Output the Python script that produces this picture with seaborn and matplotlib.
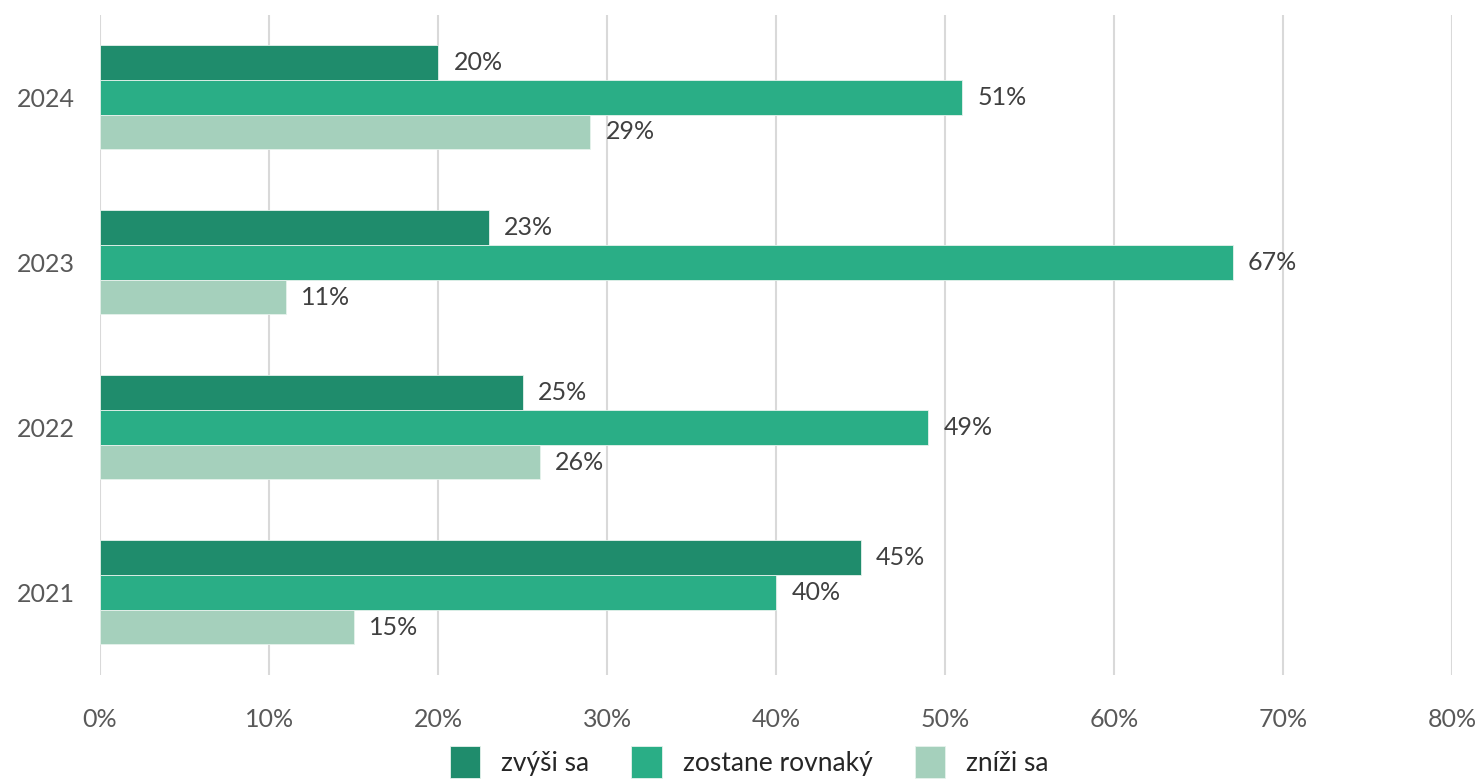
import pandas as pd
import seaborn as sns
import matplotlib.pyplot as plt
from matplotlib.ticker import PercentFormatter

# Údaje z grafu
roky = ['2024', '2023', '2022', '2021']
kategorie = ['zvýši sa', 'zostane rovnaký', 'zníži sa']
zvysi = [20, 23, 25, 45]
rovnaky = [51, 67, 49, 40]
znizi = [29, 11, 26, 15]
farby = ['#1f8c6c', '#2aae86', '#a5d0bc']

df = pd.DataFrame({
    'Rok': roky * 3,
    'Kategoria': [kategorie[0]] * 4 + [kategorie[1]] * 4 + [kategorie[2]] * 4,
    'Hodnota': zvysi + rovnaky + znizi,
})

sns.set_style('white')
plt.rcParams['font.family'] = ['Lato', 'DejaVu Sans']

fig = plt.figure(figsize=(14.82, 7.79), dpi=100)
ax = fig.add_axes([0.0675, 0.1335, 0.9125, 0.8475])

sns.barplot(data=df, y='Rok', x='Hodnota', hue='Kategoria', order=roky,
            hue_order=kategorie, palette=farby, width=0.63, orient='h',
            saturation=1, ax=ax, zorder=3, linewidth=0.6, edgecolor='#e6f2ec')

for cont in ax.containers:
    ax.bar_label(cont, labels=[f'{v:.0f}%' for v in cont.datavalues],
                 padding=11, fontsize=18, color='#404040')

ax.set_xlim(0, 80)
ax.set_ylim(3.5, -0.5)
ax.set_xticks(range(0, 81, 10))
ax.xaxis.set_major_formatter(PercentFormatter(decimals=0))
ax.grid(axis='x', color='#d9d9d9', linewidth=1.5, zorder=0)
ax.grid(axis='y', visible=False)
sns.despine(ax=ax, left=True, bottom=True)
ax.tick_params(axis='x', length=0, pad=24, labelsize=18, labelcolor='#595959')
ax.tick_params(axis='y', length=0, pad=18, labelsize=18, labelcolor='#595959')
ax.set_xlabel('')
ax.set_ylabel('')

ax.legend(loc='center', bbox_to_anchor=(0.48, -0.132), ncol=3, frameon=False,
          fontsize=19, handlelength=1.15, handleheight=1.5, columnspacing=1.6,
          handletextpad=0.8, labelcolor='#262626')

fig.savefig('out.png', dpi=100)
